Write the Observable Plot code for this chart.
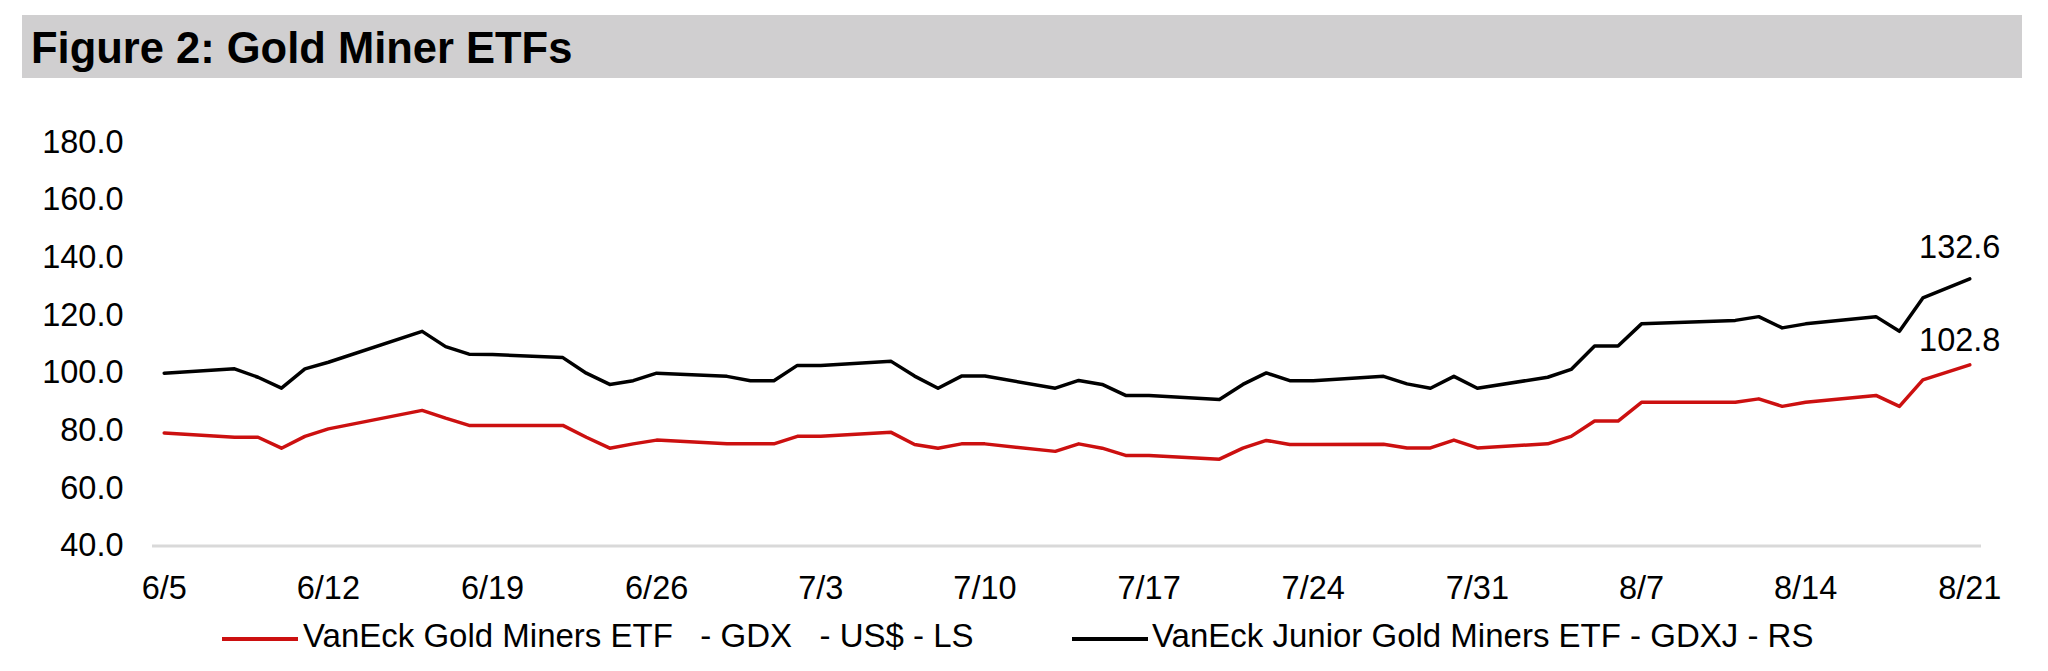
<!DOCTYPE html>
<html>
<head>
<meta charset="utf-8">
<script src="https://cdn.jsdelivr.net/npm/d3@7"></script>
<script src="https://cdn.jsdelivr.net/npm/@observablehq/plot@0.6"></script>
<style>
  html, body { margin: 0; padding: 0; background: #fff; overflow: hidden; }
  body { width: 2048px; height: 671px; font-family: "Liberation Sans", Arial, Helvetica, sans-serif; color: #000; }
  #title { position: relative; height: 100px; }
  #title .bar { position: absolute; left: 22px; top: 15px; width: 2000px; height: 63px; background: #d0cfd0; }
  #title .txt { position: absolute; left: 31px; top: 23.6px; font-weight: bold; font-size: 43.5px; line-height: normal; white-space: pre; }
  #chart { height: 510px; }
  #chart svg { display: block; }
  #legend { position: relative; height: 61px; }
  #legend .sw { position: absolute; height: 4px; top: 27px; }
  #legend .lb { position: absolute; top: 7px; font-size: 33px; line-height: normal; white-space: pre; }
</style>
</head>
<body>
<div id="title"><div class="bar"></div><div class="txt">Figure 2: Gold Miner ETFs</div></div>
<div id="chart"></div>
<div id="legend"></div>
<script>
// ---- data ----
const dates = [
  "2020-06-05","2020-06-08","2020-06-09","2020-06-10","2020-06-11","2020-06-12",
  "2020-06-16","2020-06-17","2020-06-18","2020-06-19","2020-06-22","2020-06-23",
  "2020-06-24","2020-06-25","2020-06-26","2020-06-29","2020-06-30","2020-07-01",
  "2020-07-02","2020-07-03","2020-07-06","2020-07-07","2020-07-08","2020-07-09",
  "2020-07-10","2020-07-13","2020-07-14","2020-07-15","2020-07-16","2020-07-17",
  "2020-07-20","2020-07-21","2020-07-22","2020-07-23","2020-07-24","2020-07-27",
  "2020-07-28","2020-07-29","2020-07-30","2020-07-31","2020-08-03","2020-08-04",
  "2020-08-05","2020-08-06","2020-08-07","2020-08-11","2020-08-12","2020-08-13",
  "2020-08-14","2020-08-17","2020-08-18","2020-08-19","2020-08-21"
];
const gdx = [
  79.2, 77.7, 77.7, 73.9, 78.0, 80.6,
  87.0, 84.3, 81.8, 81.8, 81.8, 77.7,
  73.9, 75.4, 76.7, 75.4, 75.4, 75.4,
  78.0, 78.0, 79.4, 75.2, 73.9, 75.4,
  75.4, 72.8, 75.4, 73.9, 71.4, 71.4,
  70.1, 73.9, 76.6, 75.2, 75.2, 75.3,
  74.0, 74.0, 76.7, 74.0, 75.4, 78.0,
  83.3, 83.3, 89.8, 89.8, 91.0, 88.4,
  89.8, 92.2, 88.4, 97.6, 102.8
];
const gdxj = [
  99.9, 101.4, 98.5, 94.7, 101.4, 103.7,
  114.4, 109.1, 106.5, 106.4, 105.3, 99.9,
  96.0, 97.3, 99.9, 98.8, 97.3, 97.3,
  102.6, 102.6, 104.0, 98.9, 94.7, 98.9,
  98.9, 94.7, 97.4, 96.0, 92.2, 92.2,
  90.8, 96.0, 100.0, 97.3, 97.3, 98.8,
  96.2, 94.7, 98.8, 94.7, 98.5, 101.2,
  109.3, 109.3, 117.0, 118.2, 119.5, 115.6,
  117.0, 119.5, 114.4, 126.0, 132.6
];
const xTickLabels = ["6/5","6/12","6/19","6/26","7/3","7/10","7/17","7/24","7/31","8/7","8/14","8/21"];
const yTicks = [40, 60, 80, 100, 120, 140, 160, 180];
const seriesNames = ["VanEck Gold Miners ETF   - GDX   - US$ - LS", "VanEck Junior Gold Miners ETF - GDXJ - RS"];
const seriesColors = ["#cc1010", "#000000"];

// ---- build table ----
const rows = dates.map((d, i) => ({date: new Date(d + "T00:00:00Z"), gdx: gdx[i], gdxj: gdxj[i]}));
const xTicks = xTickLabels.map(s => { const [m, d] = s.split("/").map(Number); return new Date(Date.UTC(2020, m - 1, d)); });
const last = rows[rows.length - 1];
const halfDay = 12 * 3600 * 1000;
const font = "'Liberation Sans', Arial, Helvetica, sans-serif";

const chart = Plot.plot({
  width: 2048,
  height: 510,
  marginLeft: 152,
  marginRight: 67,
  marginTop: 41.6,
  marginBottom: 64.5,
  style: {fontFamily: font, fontSize: "32.5px", color: "#000", background: "#fff"},
  x: {type: "utc", domain: [new Date(rows[0].date - halfDay), new Date(+last.date + halfDay)]},
  y: {domain: [40, 180]},
  marks: [
    Plot.ruleY([40], {stroke: "#d9d9d9", strokeWidth: 3}),
    Plot.axisY({ticks: yTicks, tickSize: 0, tickPadding: 29, tickFormat: d => d.toFixed(1), label: null, fontSize: 32.5}),
    Plot.axisX({ticks: xTicks, tickSize: 0, tickPadding: 29.5, tickFormat: d3.utcFormat("%-m/%-d"), label: null, fontSize: 32.5}),
    Plot.line(rows, {x: "date", y: "gdx", stroke: seriesColors[0], strokeWidth: 3.5, strokeLinejoin: "round"}),
    Plot.line(rows, {x: "date", y: "gdxj", stroke: seriesColors[1], strokeWidth: 3.5, strokeLinejoin: "round"}),
    Plot.text([last], {x: "date", y: "gdxj", text: d => d.gdxj.toFixed(1), dx: -10, dy: -31, fontSize: 32.5, fill: "#000"}),
    Plot.text([last], {x: "date", y: "gdx", text: d => d.gdx.toFixed(1), dx: -10, dy: -24, fontSize: 32.5, fill: "#000"})
  ]
});
document.getElementById("chart").appendChild(chart);

// ---- legend ----
const legend = document.getElementById("legend");
const swX = [222, 1072];
const lbX = [303, 1152];
seriesNames.forEach((name, i) => {
  const sw = document.createElement("div");
  sw.className = "sw";
  sw.style.left = swX[i] + "px";
  sw.style.width = "76px";
  sw.style.background = seriesColors[i];
  legend.appendChild(sw);
  const lb = document.createElement("div");
  lb.className = "lb";
  lb.style.left = lbX[i] + "px";
  lb.textContent = name;
  legend.appendChild(lb);
});
</script>
</body>
</html>
